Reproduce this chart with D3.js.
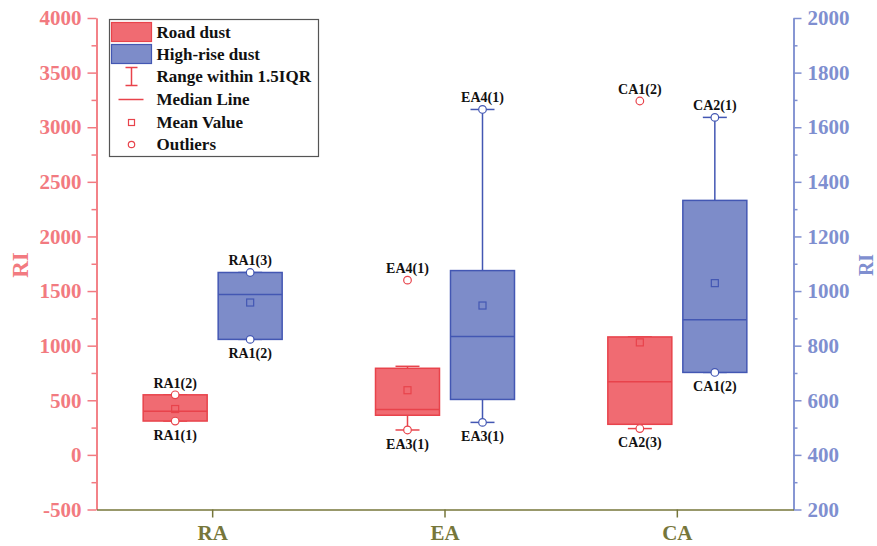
<!DOCTYPE html>
<html>
<head>
<meta charset="utf-8">
<script src="https://cdn.jsdelivr.net/npm/d3@7"></script>
<style>
  html, body { margin: 0; padding: 0; background: #fff; }
  svg { display: block; }
  text { font-family: "Liberation Serif", "Times New Roman", serif; font-weight: bold; }
</style>
</head>
<body>
<svg id="chart" width="877" height="546"></svg>
<script>
// Sites along the x axis
const categories = ["RA", "EA", "CA"];

// Road dust (left axis) box statistics
const roadWhiskerLow  = [310, 228, 241];
const roadQ1          = [310, 363, 280];
const roadMedian      = [400, 415, 670];
const roadQ3          = [550, 793, 1080];
const roadWhiskerHigh = [550, 811, 1080];
const roadMean        = [420, 592, 1030];
// Road dust labelled points (top and bottom of each group)
const roadTopValue    = [550, 1600, 3240];
const roadTopLabel    = ["RA1(2)", "EA4(1)", "CA1(2)"];
const roadBottomValue = [310, 228, 241];
const roadBottomLabel = ["RA1(1)", "EA3(1)", "CA2(3)"];

// High-rise dust (right axis) box statistics
const highWhiskerLow  = [823, 519, 702];
const highQ1          = [823, 603, 702];
const highMedian      = [987, 834, 895];
const highQ3          = [1068, 1075, 1332];
const highWhiskerHigh = [1068, 1665, 1636];
const highMean        = [958, 947, 1029];
// High-rise dust labelled points
const highTopValue    = [1068, 1665, 1636];
const highTopLabel    = ["RA1(3)", "EA4(1)", "CA2(1)"];
const highBottomValue = [823, 519, 702];
const highBottomLabel = ["RA1(2)", "EA3(1)", "CA1(2)"];

// Axis ticks
const leftTicks  = [-500, 0, 500, 1000, 1500, 2000, 2500, 3000, 3500, 4000];
const rightTicks = [200, 400, 600, 800, 1000, 1200, 1400, 1600, 1800, 2000];

const C = {
  roadFill: "#f06b72", roadStroke: "#e8434b", leftAxis: "#f27a80",
  highFill: "#7d8cc9", highStroke: "#4357b3", rightAxis: "#7f8fd0",
  bottomAxis: "#76763a"
};

const svg = d3.select("#chart");
const xL = 96.5, xR = 793.5, yT = 18, yB = 509.5;

const x = d3.scaleBand().domain(categories).range([xL, xR]);
const cx = c => x(c) + x.bandwidth() / 2;
const yLeft = d3.scaleLinear().domain([-500, 4000]).range([yB, yT]);
const yRight = d3.scaleLinear().domain([200, 2000]).range([yB, yT]);
const plain = v => String(v);

// ---- axes ----
function styleAxis(g, color, size) {
  g.attr("font-family", "Liberation Serif, serif");
  g.select(".domain").attr("stroke", color).attr("stroke-width", 1.5);
  g.selectAll(".tick line").attr("stroke", color).attr("stroke-width", 1.5);
  g.selectAll(".tick text").attr("fill", color).attr("font-size", size)
    .attr("font-family", "Liberation Serif, serif").attr("font-weight", "bold");
}

const minorL = d3.range(-250, 4000, 500);
svg.append("g").attr("transform", `translate(${xL},0)`)
  .call(d3.axisLeft(yLeft).tickValues(minorL).tickSize(5).tickFormat("").tickSizeOuter(0))
  .call(g => styleAxis(g, C.leftAxis, 21));
svg.append("g").attr("transform", `translate(${xL},0)`)
  .call(d3.axisLeft(yLeft).tickValues(leftTicks).tickSize(9).tickPadding(6).tickSizeOuter(0).tickFormat(plain))
  .call(g => styleAxis(g, C.leftAxis, 21));

const minorR = d3.range(300, 2000, 200);
svg.append("g").attr("transform", `translate(${xR},0)`)
  .call(d3.axisRight(yRight).tickValues(minorR).tickSize(4).tickFormat("").tickSizeOuter(0))
  .call(g => styleAxis(g, C.rightAxis, 21));
svg.append("g").attr("transform", `translate(${xR},0)`)
  .call(d3.axisRight(yRight).tickValues(rightTicks).tickSize(8).tickPadding(6).tickSizeOuter(0).tickFormat(plain))
  .call(g => styleAxis(g, C.rightAxis, 21));

svg.append("g").attr("transform", `translate(0,${yB})`)
  .call(d3.axisBottom(x).tickSize(8).tickPadding(8).tickSizeOuter(0))
  .call(g => styleAxis(g, C.bottomAxis, 21));

// axis titles
svg.append("text").attr("transform", "translate(28,265) rotate(-90)")
  .attr("text-anchor", "middle").attr("font-size", 23).attr("fill", C.leftAxis).text("RI");
svg.append("text").attr("transform", "translate(873,265) rotate(-90)")
  .attr("text-anchor", "middle").attr("font-size", 20).attr("fill", C.rightAxis).text("RI");

// ---- boxes ----
const boxW = 64, capW = 24;
function drawSeries(opts) {
  const { y, off, fill, stroke, lo, q1, med, q3, hi, mean, topV, topL, botV, botL } = opts;
  const g = svg.append("g");
  categories.forEach((c, i) => {
    const xc = cx(c) + off;
    // whiskers
    g.append("line").attr("x1", xc).attr("x2", xc).attr("y1", y(hi[i])).attr("y2", y(q3[i]))
      .attr("stroke", stroke).attr("stroke-width", 1.5);
    g.append("line").attr("x1", xc).attr("x2", xc).attr("y1", y(q1[i])).attr("y2", y(lo[i]))
      .attr("stroke", stroke).attr("stroke-width", 1.5);
    [hi[i], lo[i]].forEach(v => g.append("line")
      .attr("x1", xc - capW / 2).attr("x2", xc + capW / 2).attr("y1", y(v)).attr("y2", y(v))
      .attr("stroke", stroke).attr("stroke-width", 1.5));
    // box
    g.append("rect").attr("x", xc - boxW / 2).attr("y", y(q3[i]))
      .attr("width", boxW).attr("height", y(q1[i]) - y(q3[i]))
      .attr("fill", fill).attr("stroke", stroke).attr("stroke-width", 1.5);
    g.append("line").attr("x1", xc - boxW / 2).attr("x2", xc + boxW / 2)
      .attr("y1", y(med[i])).attr("y2", y(med[i])).attr("stroke", stroke).attr("stroke-width", 1.5);
    // mean
    g.append("rect").attr("x", xc - 3.5).attr("y", y(mean[i]) - 3.5).attr("width", 7).attr("height", 7)
      .attr("fill", "none").attr("stroke", stroke).attr("stroke-width", 1.2);
    // labelled points
    [[topV[i], topL[i], -12], [botV[i], botL[i], 14]].forEach(([v, lab, dy]) => {
      g.append("circle").attr("cx", xc).attr("cy", y(v)).attr("r", 3.8)
        .attr("fill", "#fff").attr("stroke", stroke).attr("stroke-width", 1.2);
      g.append("text").attr("x", xc).attr("y", y(v) + dy).attr("dy", "0.35em")
        .attr("text-anchor", "middle").attr("font-size", 14).attr("fill", "#111").text(lab);
    });
  });
}

drawSeries({ y: yLeft, off: -37.5, fill: C.roadFill, stroke: C.roadStroke,
  lo: roadWhiskerLow, q1: roadQ1, med: roadMedian, q3: roadQ3, hi: roadWhiskerHigh, mean: roadMean,
  topV: roadTopValue, topL: roadTopLabel, botV: roadBottomValue, botL: roadBottomLabel });
drawSeries({ y: yRight, off: 37.5, fill: C.highFill, stroke: C.highStroke,
  lo: highWhiskerLow, q1: highQ1, med: highMedian, q3: highQ3, hi: highWhiskerHigh, mean: highMean,
  topV: highTopValue, topL: highTopLabel, botV: highBottomValue, botL: highBottomLabel });

// ---- legend ----
const lg = svg.append("g").attr("transform", "translate(109.5,19.5)");
lg.append("rect").attr("width", 209).attr("height", 137).attr("fill", "#fff")
  .attr("stroke", "#555").attr("stroke-width", 1.2);
const rowY = [13, 35, 57, 80, 103, 125];
const legendText = ["Road dust", "High-rise dust", "Range within 1.5IQR", "Median Line", "Mean Value", "Outliers"];
lg.append("rect").attr("x", 2).attr("y", 3).attr("width", 40).attr("height", 19)
  .attr("fill", C.roadFill).attr("stroke", C.roadStroke).attr("stroke-width", 1.2);
lg.append("rect").attr("x", 2).attr("y", 25).attr("width", 40).attr("height", 19)
  .attr("fill", C.highFill).attr("stroke", C.highStroke).attr("stroke-width", 1.2);
// whisker icon
lg.append("line").attr("x1", 22).attr("x2", 22).attr("y1", 48).attr("y2", 66).attr("stroke", C.roadStroke).attr("stroke-width", 1.5);
[48, 66].forEach(v => lg.append("line").attr("x1", 16).attr("x2", 28).attr("y1", v).attr("y2", v)
  .attr("stroke", C.roadStroke).attr("stroke-width", 1.5));
lg.append("line").attr("x1", 9).attr("x2", 34).attr("y1", rowY[3]).attr("y2", rowY[3])
  .attr("stroke", C.roadStroke).attr("stroke-width", 1.5);
lg.append("rect").attr("x", 19).attr("y", rowY[4] - 3).attr("width", 6).attr("height", 6)
  .attr("fill", "none").attr("stroke", C.roadStroke).attr("stroke-width", 1.2);
lg.append("circle").attr("cx", 22).attr("cy", rowY[5]).attr("r", 3.2)
  .attr("fill", "none").attr("stroke", C.roadStroke).attr("stroke-width", 1.2);
legendText.forEach((t, i) => lg.append("text").attr("x", 47).attr("y", rowY[i]).attr("dy", "0.35em")
  .attr("font-size", 17).attr("fill", "#111").text(t));
</script>
</body>
</html>
